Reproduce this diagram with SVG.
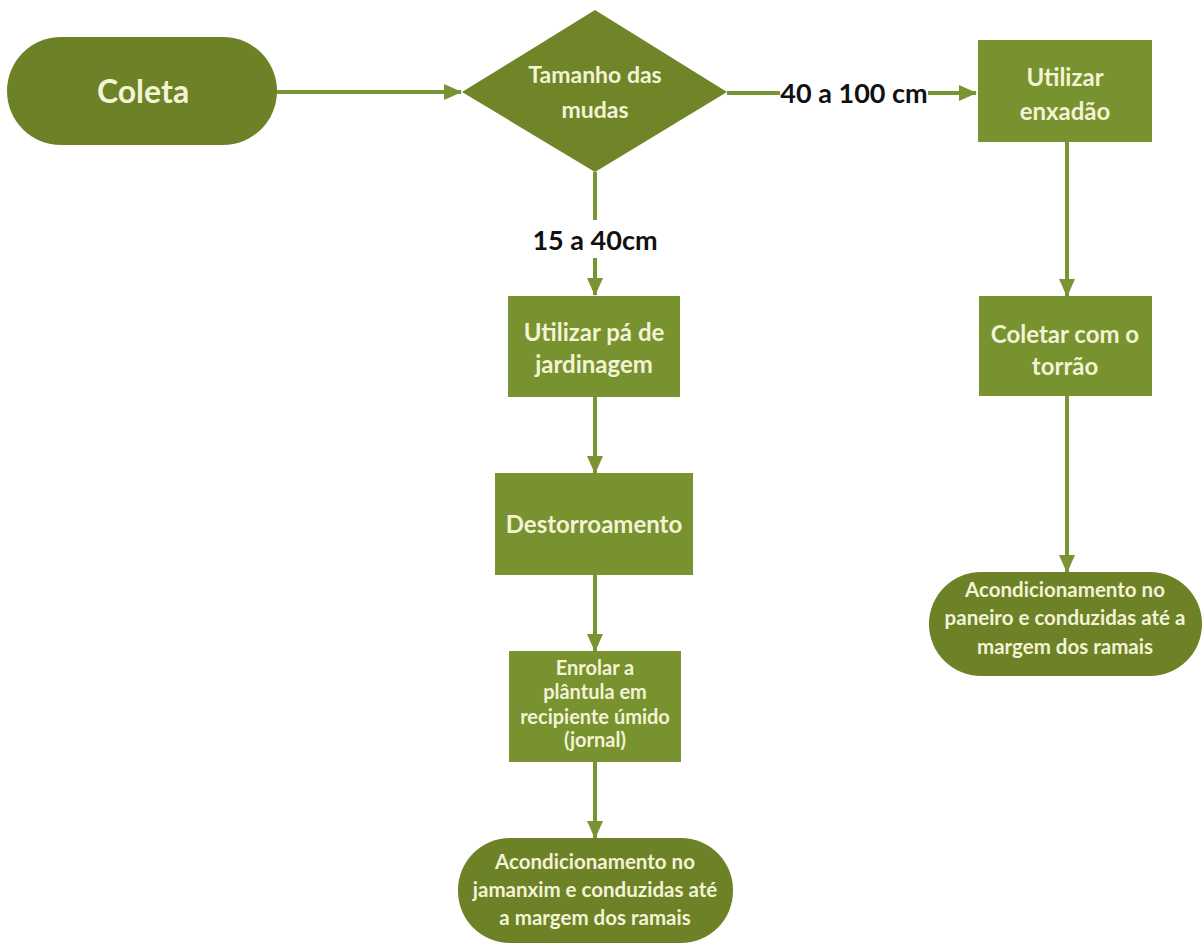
<svg xmlns="http://www.w3.org/2000/svg" width="1204" height="943" viewBox="0 0 1204 943">
<defs>
<marker id="arr" markerUnits="userSpaceOnUse" markerWidth="18" markerHeight="16" refX="17" refY="8" orient="auto">
<path d="M0,0 L18,8 L0,16 Z" fill="#7a9433"/>
</marker>
<style>
.pill{fill:#6d8126;}
.box{fill:#77922e;}
.dia{fill:#6f8527;}
.t{font-family:Lato,"Liberation Sans",sans-serif;font-weight:bold;fill:#f3f3d6;text-anchor:middle;}
.lbl{font-family:Lato,"Liberation Sans",sans-serif;font-weight:bold;fill:#111;text-anchor:middle;font-size:27px;}
.c{stroke:#7a9433;stroke-width:4;fill:none;}
</style>
</defs>
<rect width="1204" height="943" fill="#fff"/>
<g id="connectors">
<path class="c" d="M277,92 L461,92" marker-end="url(#arr)"/>
<path class="c" d="M727,93 L976,93" marker-end="url(#arr)"/>
<path class="c" d="M595,172 L595,295" marker-end="url(#arr)"/>
<path class="c" d="M1067,142 L1067,296" marker-end="url(#arr)"/>
<path class="c" d="M1067,396 L1067,572" marker-end="url(#arr)"/>
<path class="c" d="M595,397 L595,473" marker-end="url(#arr)"/>
<path class="c" d="M595,575 L595,651" marker-end="url(#arr)"/>
<path class="c" d="M595,762 L595,838" marker-end="url(#arr)"/>
<rect x="780" y="76" width="148" height="34" fill="#fff"/>
<text class="lbl" x="854" y="103">40 a 100 cm</text>
<rect x="525" y="220" width="140" height="38" fill="#fff"/>
<text class="lbl" x="595" y="250">15 a 40cm</text>
</g>
<g id="coleta">
<rect class="pill" x="7" y="37" width="270" height="108" rx="54"/>
<text class="t" x="143" y="103" font-size="32">Coleta</text>
</g>
<g id="tamanho">
<polygon class="dia" points="595,10 727,92 595,172 462,92"/>
<text class="t" x="595" y="83" font-size="23">Tamanho das</text>
<text class="t" x="595" y="118" font-size="23">mudas</text>
</g>
<g id="enxadao">
<rect class="box" x="978" y="40" width="174" height="102"/>
<text class="t" x="1065" y="86" font-size="24">Utilizar</text>
<text class="t" x="1065" y="120" font-size="24">enxadão</text>
</g>
<g id="torrao">
<rect class="box" x="979" y="296" width="173" height="100"/>
<text class="t" x="1065" y="343" font-size="24">Coletar com o</text>
<text class="t" x="1065" y="375" font-size="24">torrão</text>
</g>
<g id="paneiro">
<rect class="pill" x="929" y="572" width="273" height="104" rx="52"/>
<text class="t" x="1065" y="597" font-size="20.5">Acondicionamento no</text>
<text class="t" x="1065" y="625" font-size="20.5">paneiro e conduzidas até a</text>
<text class="t" x="1065" y="654" font-size="20.5">margem dos ramais</text>
</g>
<g id="pa">
<rect class="box" x="508" y="296" width="172" height="101"/>
<text class="t" x="594" y="341" font-size="24">Utilizar pá de</text>
<text class="t" x="594" y="373" font-size="24">jardinagem</text>
</g>
<g id="destorroamento">
<rect class="box" x="495" y="473" width="198" height="102"/>
<text class="t" x="594" y="533" font-size="24">Destorroamento</text>
</g>
<g id="enrolar">
<rect class="box" x="509" y="651" width="172" height="111"/>
<text class="t" x="595" y="675" font-size="20">Enrolar a</text>
<text class="t" x="595" y="699" font-size="20">plântula em</text>
<text class="t" x="595" y="724" font-size="20">recipiente úmido</text>
<text class="t" x="595" y="747" font-size="20">(jornal)</text>
</g>
<g id="jamanxim">
<rect class="pill" x="458" y="838" width="275" height="105" rx="52"/>
<text class="t" x="595" y="869" font-size="20.5">Acondicionamento no</text>
<text class="t" x="595" y="897" font-size="20.5">jamanxim e conduzidas até</text>
<text class="t" x="595" y="925" font-size="20.5">a margem dos ramais</text>
</g>
</svg>
